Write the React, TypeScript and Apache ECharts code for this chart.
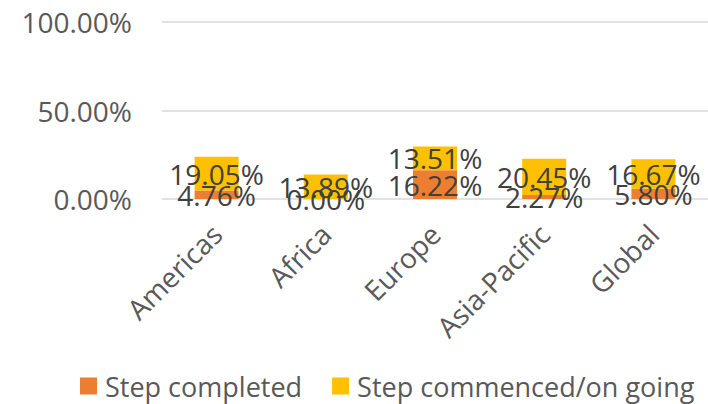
import React, { useEffect, useRef } from "react";
import * as echarts from "echarts";

const categories = ["Americas", "Africa", "Europe", "Asia-Pacific", "Global"];
const completed = [4.76, 0.0, 16.22, 2.27, 5.8];
const commenced = [19.05, 13.89, 13.51, 20.45, 16.67];
const seriesNames = ["Step completed", "Step commenced/on going"];

const FONT = "'Open Sans', 'Liberation Sans', sans-serif";

export default function App() {
  const ref = useRef<HTMLDivElement>(null);
  useEffect(() => {
    document.body.style.margin = "0";
    const chart = echarts.init(ref.current!, null, { renderer: "svg" });
    const labelStyle = {
      show: true,
      position: "inside" as const,
      color: "#404040",
      fontSize: 28,
      fontFamily: FONT,
      formatter: (p: any) => `${Number(p.value).toFixed(2)}%`,
    };
    chart.setOption({
      animation: false,
      backgroundColor: "#ffffff",
      grid: { left: 162, right: -4, top: 22, bottom: 205, containLabel: false },
      legend: {
        left: 75,
        top: 367,
        icon: "rect",
        itemWidth: 17,
        itemHeight: 17,
        itemGap: 30,
        textStyle: { color: "#595959", fontSize: 27, lineHeight: 28, fontFamily: FONT, padding: [0, 0, 0, 3] },
        data: seriesNames,
      },
      xAxis: {
        type: "category",
        data: categories,
        axisLine: { show: false },
        axisTick: { show: false },
        axisLabel: { rotate: 45, color: "#595959", fontSize: 28, fontFamily: FONT, margin: 30, interval: 0 },
      },
      yAxis: {
        type: "value",
        min: 0,
        max: 100,
        interval: 50,
        axisLine: { show: false },
        axisTick: { show: false },
        splitLine: { lineStyle: { color: "#D9D9D9", width: 1.5 } },
        axisLabel: {
          color: "#595959",
          fontSize: 28,
          fontFamily: FONT,
          margin: 30,
          formatter: (v: number) => `${v.toFixed(2)}%`,
        },
      },
      series: [
        {
          name: seriesNames[0],
          type: "bar",
          stack: "total",
          barWidth: 44,
          itemStyle: { color: "#ED7D31" },
          label: labelStyle,
          data: completed,
        },
        {
          name: seriesNames[1],
          type: "bar",
          stack: "total",
          barWidth: 44,
          itemStyle: { color: "#FFC000" },
          label: labelStyle,
          data: commenced,
        },
      ],
    });
    return () => chart.dispose();
  }, []);
  return <div ref={ref} style={{ width: 708, height: 404 }} />;
}
